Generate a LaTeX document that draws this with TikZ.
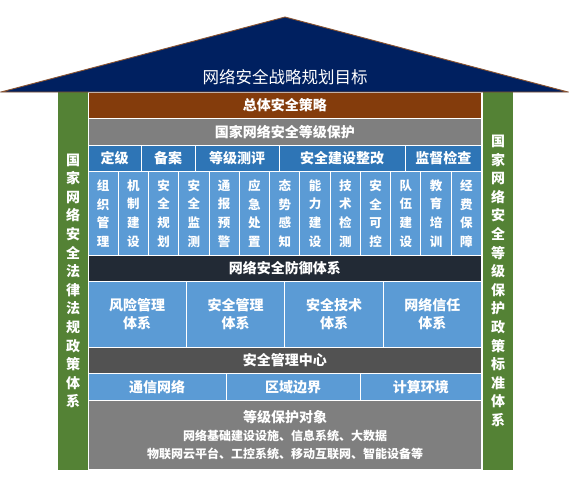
\documentclass[tikz,border=0pt]{standalone}
\usepackage{fontspec}
\newfontfamily\cjk{Noto Sans CJK SC}
\definecolor{roofblue}{HTML}{002060}
\definecolor{roofedge}{HTML}{8A5330}
\definecolor{brownc}{HTML}{843C0C}
\definecolor{grayc}{HTML}{7F7F7F}
\definecolor{blueA}{HTML}{2E75B6}
\definecolor{blueB}{HTML}{5B9BD5}
\definecolor{navyc}{HTML}{222A35}
\definecolor{dgray}{HTML}{525252}
\definecolor{greenc}{HTML}{548235}
\newcommand\cellrc[7]{%
  \node[cellbox, fill=#6, minimum width={(#4)-(#2)}, minimum height={(#5)-(#3)}]
    (#1) at ({((#2)+(#4))/2},{((#3)+(#5))/2}) {#7};}
\def\vst#1#2#3#4{#1\\#2\\#3\\#4}
\begin{document}
\begin{tikzpicture}[x=1pt,y=-1pt,
  cellbox/.style={draw=white, line width=1pt, inner sep=0pt, outer sep=0pt, text=white, align=center,
    font=\cjk\bfseries\fontsize{14}{18}\selectfont},
  vcell/.style={font=\cjk\bfseries\fontsize{12.5}{18.6}\selectfont},
  pillar/.style={fill=greenc, inner sep=0pt, outer sep=0pt, text=white, align=center,
    minimum width=30, minimum height=378,
    font=\cjk\bfseries\fontsize{14}{18.6}\selectfont},
  txt/.style={text=white, inner sep=0pt, align=center}]
\useasboundingbox (0,0) rectangle (569,483);
% pillars
\node[pillar] (lp) at (73,281) {国\\家\\网\\络\\安\\全\\法\\律\\法\\规\\政\\策\\体\\系};
\node[pillar] (rp) at (498,281) {国\\家\\网\\络\\安\\全\\等\\级\\保\\护\\政\\策\\标\\准\\体\\系};
% rows
\cellrc{zt}{88}{92}{481.5}{118.5}{brownc}{总体安全策略}
\cellrc{dj}{88}{118.5}{481.5}{145.5}{grayc}{国家网络安全等级保护}
\cellrc{r1}{88}{145.5}{141}{171.5}{blueA}{定级}
\cellrc{r2}{141}{145.5}{195}{171.5}{blueA}{备案}
\cellrc{r3}{195}{145.5}{279}{171.5}{blueA}{等级测评}
\cellrc{r4}{279}{145.5}{405}{171.5}{blueA}{安全建设整改}
\cellrc{r5}{405}{145.5}{481.5}{171.5}{blueA}{监督检查}
\foreach \t [count=\i from 0] in {组织管理,机制建设,安全规划,安全监测,通报预警,应急处置,态势感知,能力建设,技术检测,安全可控,队伍建设,教育培训,经费保障}{
  \pgfmathsetmacro\xa{88+\i*30.27}
  \pgfmathsetmacro\xb{88+(\i+1)*30.27}
  \node[cellbox, vcell, fill=blueB, minimum width={\xb-\xa}, minimum height=84]
    (v\i) at ({(\xa+\xb)/2},213.5) {\expandafter\vst\t};
}
\cellrc{fy}{88}{255.5}{481.5}{281.5}{navyc}{网络安全防御体系}
\cellrc{b1}{88}{281.5}{186.4}{347.5}{blueB}{风险管理\\体系}
\cellrc{b2}{186.4}{281.5}{284.8}{347.5}{blueB}{安全管理\\体系}
\cellrc{b3}{284.8}{281.5}{383.2}{347.5}{blueB}{安全技术\\体系}
\cellrc{b4}{383.2}{281.5}{481.5}{347.5}{blueB}{网络信任\\体系}
\cellrc{zx}{88}{347.5}{481.5}{373.5}{dgray}{安全管理中心}
\cellrc{c1}{88}{373.5}{226}{400.5}{blueB}{通信网络}
\cellrc{c2}{226}{373.5}{360}{400.5}{blueB}{区域边界}
\cellrc{c3}{360}{373.5}{481.5}{400.5}{blueB}{计算环境}
\cellrc{obj}{88}{400.5}{481.5}{469.5}{grayc}{}
\node[txt, font=\cjk\bfseries\fontsize{14}{14}\selectfont] (o1) at (285,417) {等级保护对象};
\node[txt, font=\cjk\bfseries\fontsize{12}{12}\selectfont] (o2) at (285,436) {网络基础建设设施、信息系统、大数据};
\node[txt, font=\cjk\bfseries\fontsize{12}{12}\selectfont] (o3) at (285,454) {物联网云平台、工控系统、移动互联网、智能设备等};
% roof
\filldraw[fill=roofblue, draw=roofedge, line width=0.9pt, line join=miter] (1,92) -- (285,17) -- (568,92) -- cycle;
\node[txt, font=\cjk\fontsize{16.5}{16.5}\selectfont] (roof) at (285,77) {网络安全战略规划目标};
\end{tikzpicture}
\end{document}
